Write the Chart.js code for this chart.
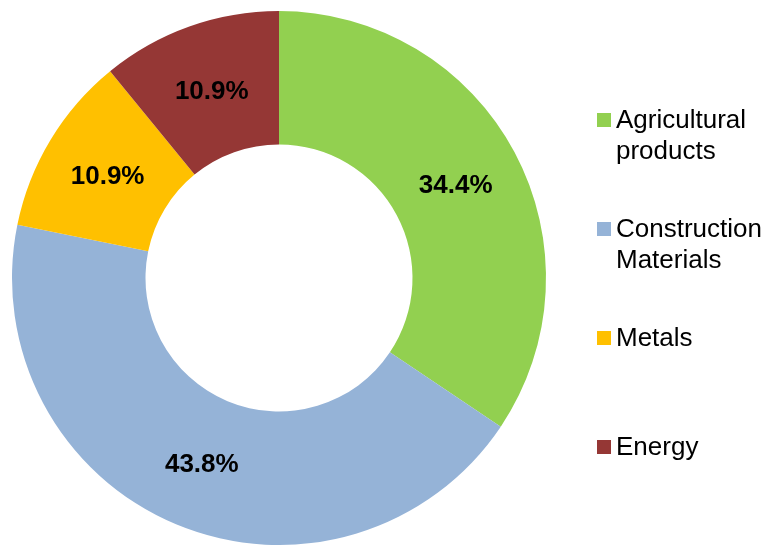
<!DOCTYPE html>
<html>
<head>
<meta charset="utf-8">
<script src="https://cdn.jsdelivr.net/npm/chart.js@4/dist/chart.umd.min.js"></script>
<style>
  html, body { margin: 0; padding: 0; background: #ffffff; }
  #wrap { width: 769px; height: 545px; }
</style>
</head>
<body>
<div id="wrap"><canvas id="c" width="769" height="545"></canvas></div>
<script>
// Share of each commodity group (percent)
const categories = [
  ['Agricultural', 'products'],
  ['Construction', 'Materials'],
  ['Metals'],
  ['Energy']
];
const shares = [34.4, 43.8, 10.9, 10.9];
const sliceColors = ['#92D050', '#95B3D7', '#FFC000', '#953735'];

const FONT = '"Liberation Sans", Arial, sans-serif';

// Percentage text in the middle of each ring segment
const sliceLabels = {
  id: 'sliceLabels',
  afterDatasetsDraw(chart) {
    const ctx = chart.ctx;
    const meta = chart.getDatasetMeta(0);
    ctx.save();
    ctx.font = 'bold 26px ' + FONT;
    ctx.fillStyle = '#000000';
    ctx.textAlign = 'center';
    ctx.textBaseline = 'middle';
    meta.data.forEach((arc, i) => {
      const p = arc.getProps(['x', 'y', 'startAngle', 'endAngle', 'innerRadius', 'outerRadius'], true);
      const a = (p.startAngle + p.endAngle) / 2;
      const r = (p.innerRadius + p.outerRadius) / 2;
      const v = chart.data.datasets[0].data[i];
      ctx.fillText(v.toFixed(1) + '%', p.x + Math.cos(a) * r, p.y + Math.sin(a) * r + 2);
    });
    ctx.restore();
  }
};

// Legend column on the right with wrapped entries
const sideLegend = {
  id: 'sideLegend',
  afterDraw(chart) {
    const ctx = chart.ctx;
    const labels = chart.data.labels;
    const colors = chart.data.datasets[0].backgroundColor;
    const x0 = 597, box = 14, textX = 616;
    const firstY = 120, step = 109, lineH = 31;
    ctx.save();
    ctx.font = '26px ' + FONT;
    ctx.textBaseline = 'middle';
    ctx.textAlign = 'left';
    labels.forEach((lines, i) => {
      const cy = firstY + i * step;
      ctx.fillStyle = colors[i];
      ctx.fillRect(x0, cy - box / 2, box, box);
      ctx.fillStyle = '#000000';
      lines.forEach((t, j) => ctx.fillText(t, textX, cy + 1 + j * lineH));
    });
    ctx.restore();
  }
};

new Chart(document.getElementById('c'), {
  type: 'doughnut',
  data: {
    labels: categories,
    datasets: [{
      data: shares,
      backgroundColor: sliceColors,
      borderWidth: 0,
      hoverOffset: 0
    }]
  },
  options: {
    responsive: false,
    animation: false,
    cutout: '50%',
    layout: { padding: { left: 12, top: 11, right: 223, bottom: 0 } },
    plugins: {
      legend: { display: false },
      tooltip: { enabled: false }
    }
  },
  plugins: [sliceLabels, sideLegend]
});
</script>
</body>
</html>
